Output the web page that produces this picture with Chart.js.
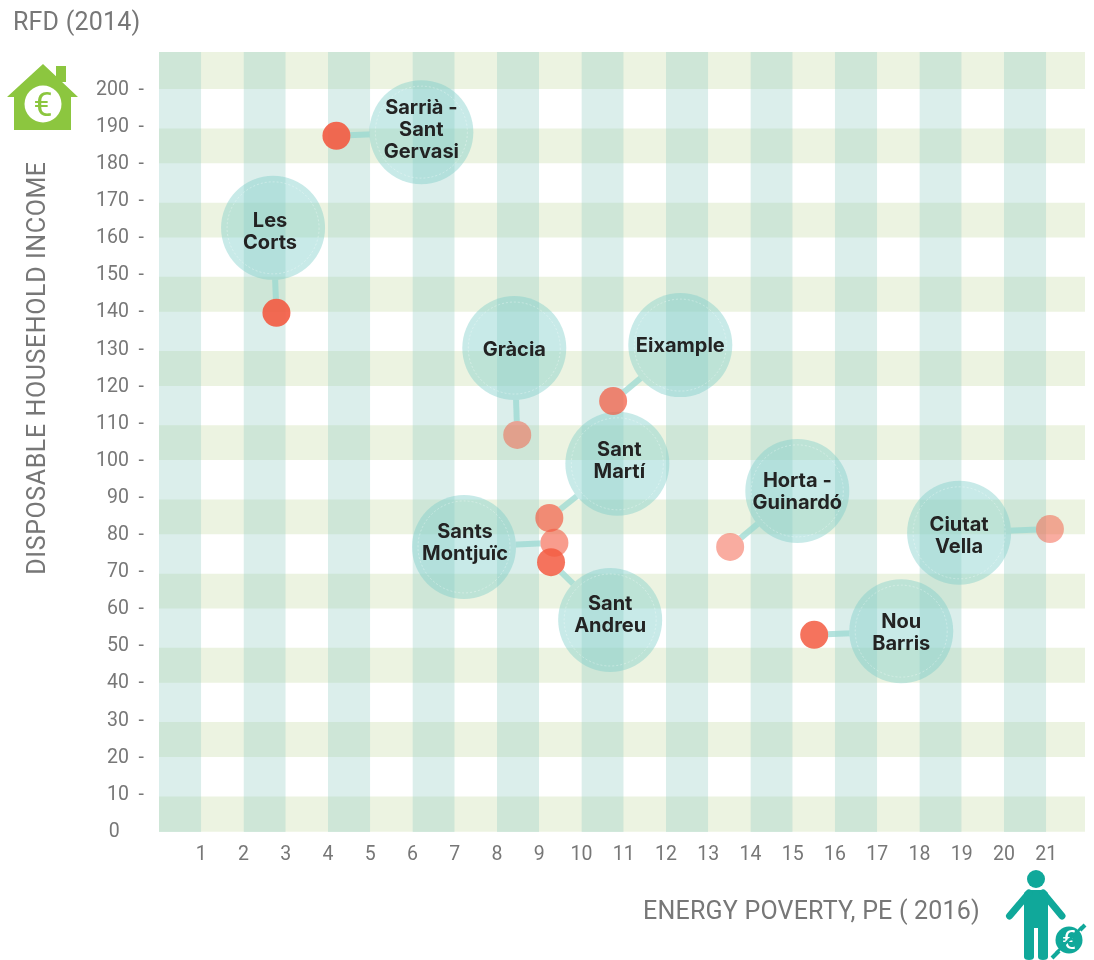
<!DOCTYPE html>
<html>
<head>
<meta charset="utf-8">
<title>Energy poverty and household income</title>
<script src="https://cdn.jsdelivr.net/npm/chart.js@4"></script>
<style>
    body { margin: 0; background: #fff; }
    #wrap { position: relative; width: 1094px; height: 960px; overflow: hidden; }
    canvas { position: absolute; left: 0; top: 0; }
    .axis-title { position: absolute; font-family: Roboto, sans-serif; font-size: 25px; color: #777; white-space: nowrap; line-height: 28px; letter-spacing: 0.2px; }
    svg { position: absolute; left: 0; top: 0; }
</style>
</head>
<body>
<div id="wrap">
    <canvas id="chart" width="1094" height="960"></canvas>
    <svg width="1094" height="960">
        <!-- house -->
        <path d="M56 66h10v16h-10z" fill="#8cc63f"/>
        <path d="M43 64L78 97H71V130H14V97H7Z" fill="#8cc63f"/>
        <circle cx="43" cy="104" r="18.5" fill="#fff"/>
        <text x="43" y="116" text-anchor="middle" font-family="Roboto, sans-serif" font-size="34" fill="#8cc63f">€</text>
        <!-- person -->
        <g fill="#10a89a" stroke="none">
            <circle cx="1036" cy="879" r="9"/>
            <path d="M1029 890h14q3 0 5 3v64q0 3-5 3t-5-3v-29h-4v29q0 3-5 3t-5-3v-64q2-3 5-3z"/>
        </g>
        <path d="M1029 893L1009.500 916M1043 893L1062 916" stroke="#10a89a" stroke-width="7" stroke-linecap="round" fill="none"/>
        <path d="M1052 958L1085 925" stroke="#10a89a" stroke-width="4"/>
        <circle cx="1069" cy="940" r="15" fill="#fff"/>
        <circle cx="1069" cy="940" r="13.500" fill="#10a89a"/>
        <text x="1069" y="949" text-anchor="middle" font-family="Roboto, sans-serif" font-size="25" fill="#fff">€</text>
        <path d="M1056 953L1082 927" stroke="#10a89a" stroke-width="2.500"/>
    </svg>
    <div class="axis-title" style="left:13px;top:8px">RFD (2014)</div>
    <div class="axis-title" style="right:114px;top:897px">ENERGY POVERTY, PE ( 2016)</div>
    <div class="axis-title" style="left:37px;top:368px;letter-spacing:0.6px;transform:translate(-50%,-50%) rotate(-90deg)">DISPOSABLE HOUSEHOLD INCOME</div>
</div>
<script>
const districts = ['Sarrià -\nSant\nGervasi', 'Les\nCorts', 'Gràcia', 'Eixample', 'Sant\nMartí', 'Horta -\nGuinardó', 'Ciutat\nVella', 'Nou\nBarris', 'Sants\nMontjuïc', 'Sant\nAndreu'];
const bubbleX = [6.21, 2.70, 8.41, 12.34, 10.85, 15.11, 18.94, 17.57, 7.22, 10.68];
const bubbleY = [188.1, 162.3, 129.9, 130.7, 98.7, 91.4, 80.1, 53.6, 76.3, 56.6];
const dotX = [4.20, 2.78, 8.48, 10.75, 9.24, 13.52, 21.09, 15.51, 9.36, 9.28];
const dotY = [187.1, 139.4, 106.5, 115.6, 84.1, 76.3, 81.1, 52.6, 77.4, 72.2];
const xTicks = [1, 2, 3, 4, 5, 6, 7, 8, 9, 10, 11, 12, 13, 14, 15, 16, 17, 18, 19, 20, 21];
const yTicks = [0, 10, 20, 30, 40, 50, 60, 70, 80, 90, 100, 110, 120, 130, 140, 150, 160, 170, 180, 190, 200];
const xBandStarts = [0, 2, 4, 6, 8, 10, 12, 14, 16, 18, 20];
const yBandLows = [-0.5, 19.7, 39.7, 59.7, 79.7, 99.7, 119.7, 139.7, 159.7, 179.7, 199.7];
const yBandHighs = [9, 29.1, 49.1, 69.1, 89.1, 109.1, 129.1, 149.1, 169.1, 189.1, 209.7];

const xMin = 0, xMax = 21.92, yMin = -0.54, yMax = 209.7;

// how strong each red dot is, same order as districts
const dotAlpha = [0.9, 0.9, 0.5, 0.72, 0.68, 0.5, 0.5, 0.85, 0.6, 0.85];
// nudges for the bubble text, in px
const textDx = [0, -3, 0, 0, 2, 0, 0, 0, 1, 0];
const textDy = [-2, 4, 2, 1, -3, 1, 3, 2, -4, -5];

const bubbleRadius = 52;
const dotRadius = 14;

const hBands = yBandLows.map((low, i) => ({
    type: 'line',
    order: 50,
    data: [{ x: xMin, y: yBandHighs[i] }, { x: xMax, y: yBandHighs[i] }],
    borderWidth: 0,
    pointRadius: 0,
    backgroundColor: '#ecf3e1',
    fill: { value: low }
}));

const vBands = xBandStarts.map((start) => ({
    type: 'line',
    order: 40,
    data: [{ x: start, y: yMax }, { x: start + 1, y: yMax }],
    borderWidth: 0,
    pointRadius: 0,
    backgroundColor: 'rgba(150, 205, 195, 0.34)',
    fill: { value: yMin }
}));

const connectors = districts.map((name, i) => ({
    type: 'line',
    order: 30,
    link: i,
    data: [{ x: bubbleX[i], y: bubbleY[i] }, { x: dotX[i], y: dotY[i] }],
    borderColor: 'rgba(150, 215, 208, 0.7)',
    borderWidth: 6,
    pointRadius: 0
}));

const bubbles = {
    type: 'scatter',
    order: 20,
    data: bubbleX.map((x, i) => ({ x: x, y: bubbleY[i] })),
    pointRadius: bubbleRadius,
    pointBorderWidth: 0,
    pointBackgroundColor: 'rgba(125, 205, 200, 0.42)',
    clip: false
};

const dots = {
    type: 'scatter',
    order: 10,
    data: dotX.map((x, i) => ({ x: x, y: dotY[i] })),
    pointRadius: dotRadius,
    pointBorderWidth: 0,
    pointBackgroundColor: dotAlpha.map((a) => 'rgba(243, 90, 65, ' + a + ')'),
    clip: false
};

// connectors only show between a bubble and its dot, so cut both circles out
const cutConnectors = {
    id: 'cutConnectors',
    beforeDatasetDraw(chart, args) {
        const link = chart.data.datasets[args.index].link;
        if (link === undefined) return;
        const sx = chart.scales.x, sy = chart.scales.y;
        const ctx = chart.ctx;
        ctx.save();
        ctx.beginPath();
        ctx.rect(0, 0, chart.width, chart.height);
        ctx.moveTo(sx.getPixelForValue(bubbleX[link]) + bubbleRadius, sy.getPixelForValue(bubbleY[link]));
        ctx.arc(sx.getPixelForValue(bubbleX[link]), sy.getPixelForValue(bubbleY[link]), bubbleRadius, 0, Math.PI * 2);
        ctx.moveTo(sx.getPixelForValue(dotX[link]) + dotRadius, sy.getPixelForValue(dotY[link]));
        ctx.arc(sx.getPixelForValue(dotX[link]), sy.getPixelForValue(dotY[link]), dotRadius, 0, Math.PI * 2);
        ctx.clip('evenodd');
    },
    afterDatasetDraw(chart, args) {
        if (chart.data.datasets[args.index].link !== undefined) chart.ctx.restore();
    }
};

const bubbleText = {
    id: 'bubbleText',
    afterDatasetsDraw(chart) {
        const ctx = chart.ctx;
        const sx = chart.scales.x, sy = chart.scales.y;
        ctx.save();
        districts.forEach((name, i) => {
            const px = sx.getPixelForValue(bubbleX[i]);
            const py = sy.getPixelForValue(bubbleY[i]);
            // thin dashed ring inside the bubble
            ctx.beginPath();
            ctx.setLineDash([2, 2]);
            ctx.lineWidth = 0.7;
            ctx.strokeStyle = 'rgba(255, 255, 255, 0.45)';
            ctx.arc(px, py, 46, 0, Math.PI * 2);
            ctx.stroke();
            ctx.setLineDash([]);

            const lines = name.split('\n');
            ctx.font = '700 20px Inter, sans-serif';
            ctx.fillStyle = '#232323';
            ctx.textAlign = 'center';
            ctx.textBaseline = 'middle';
            lines.forEach((line, k) => {
                ctx.fillText(line, px + textDx[i], py + textDy[i] + (k - (lines.length - 1) / 2) * 22);
            });
        });
        ctx.restore();
    }
};

new Chart(document.getElementById('chart'), {
    type: 'line',
    data: { datasets: [...hBands, ...vBands, ...connectors, bubbles, dots] },
    plugins: [cutConnectors, bubbleText],
    options: {
        responsive: false,
        animation: false,
        events: [],
        layout: { autoPadding: false, padding: { top: 52, right: 9, left: 0, bottom: 0 } },
        plugins: { legend: { display: false }, tooltip: { enabled: false }, title: { display: false } },
        scales: {
            x: {
                type: 'linear',
                min: xMin,
                max: xMax,
                border: { display: false },
                grid: { display: false },
                afterBuildTicks(scale) { scale.ticks = xTicks.map((v) => ({ value: v })); },
                afterFit(scale) {
                    scale.height = 128;
                    scale.paddingLeft = 0;
                    scale.paddingRight = 0;
                },
                ticks: {
                    autoSkip: false,
                    maxRotation: 0,
                    padding: 3,
                    color: '#777',
                    font: { family: 'Roboto, sans-serif', size: 19.5 }
                }
            },
            y: {
                min: yMin,
                max: yMax,
                border: { display: false },
                grid: { display: false },
                afterBuildTicks(scale) { scale.ticks = yTicks.map((v) => ({ value: v })); },
                afterFit(scale) { scale.width = 159; },
                ticks: {
                    autoSkip: false,
                    padding: 7,
                    labelOffset: 2,
                    color: '#777',
                    font: { family: 'Roboto, sans-serif', size: 19.5 },
                    callback: (v) => (v === 0 ? '0     ' : v + '  -')
                }
            }
        }
    }
});
</script>
</body>
</html>
